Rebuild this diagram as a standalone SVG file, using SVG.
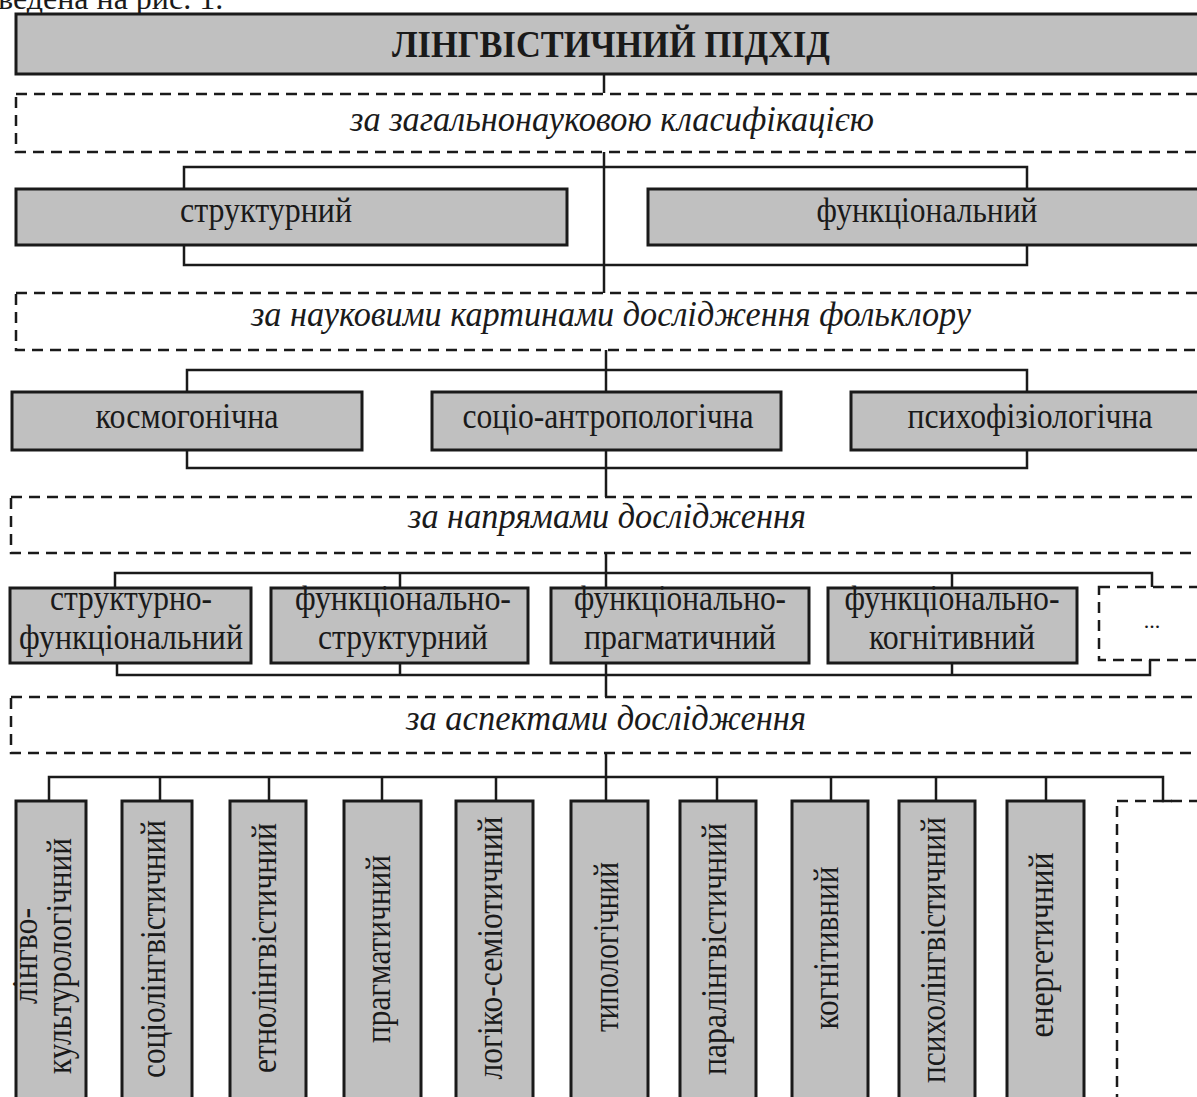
<svg xmlns="http://www.w3.org/2000/svg" width="1197" height="1097" viewBox="0 0 1197 1097">
<style>
.box{fill:#c0c0c0;stroke:#1a1a1a;stroke-width:3}
.dash{fill:none;stroke:#1a1a1a;stroke-width:2.5;stroke-dasharray:11 7}
.conn{fill:none;stroke:#1a1a1a;stroke-width:2.5}
.t{font-family:"Liberation Serif","Times New Roman",serif;font-size:36px;fill:#1a1a1a;text-anchor:middle}
.i{font-style:italic;font-size:35px}
.b{font-weight:bold;font-size:38px}
</style>
<rect width="1197" height="1097" fill="#ffffff"/>
<text class="t" x="-2" y="9" style="text-anchor:start;font-size:32px">ведена на рис. 1.</text>

<g id="connectors">
<path class="conn" d="M604,74 V93"/>
<path class="conn" d="M604,152 V293"/>
<path class="conn" d="M184,189 V167 H1027 V189"/>
<path class="conn" d="M184,245 V265 H1027 V245"/>
<path class="conn" d="M606,350 V392"/>
<path class="conn" d="M187,392 V370 H1027 V392"/>
<path class="conn" d="M187,450 V468 H1027 V450"/>
<path class="conn" d="M606,450 V497"/>
<path class="conn" d="M115,588 V573 H1152 V587"/>
<path class="conn" d="M400,573 V588 M606,553 V588 M952,573 V588"/>
<path class="conn" d="M117,663 V675 H1150 V660"/>
<path class="conn" d="M400,663 V675 M606,663 V697 M952,663 V675"/>
<path class="conn" d="M49,801 V777 H1163 V801 H1172"/>
<path class="conn" d="M606,753 V801 M160,777 V801 M269,777 V801 M382,777 V801 M496,777 V801 M717,777 V801 M831,777 V801 M936,777 V801 M1046,777 V801"/>
</g>

<g id="title">
<rect class="box" x="16" y="14" width="1200" height="60"/>
<text class="t b" x="611" y="57" textLength="438" lengthAdjust="spacingAndGlyphs">ЛІНГВІСТИЧНИЙ ПІДХІД</text>
</g>

<g id="crit1">
<rect class="dash" x="16" y="94" width="1200" height="58"/>
<text class="t i" x="612" y="131" textLength="524" lengthAdjust="spacingAndGlyphs">за загальнонауковою класифікацією</text>
</g>

<g id="structural">
<rect class="box" x="16" y="189" width="551" height="56"/>
<text class="t" x="266" y="222" textLength="172" lengthAdjust="spacingAndGlyphs">структурний</text>
</g>
<g id="functional">
<rect class="box" x="648" y="189" width="570" height="56"/>
<text class="t" x="927" y="222" textLength="221" lengthAdjust="spacingAndGlyphs">функціональний</text>
</g>

<g id="crit2">
<rect class="dash" x="16" y="293" width="1200" height="57"/>
<text class="t i" x="611" y="326" textLength="720" lengthAdjust="spacingAndGlyphs">за науковими картинами дослідження фольклору</text>
</g>

<g id="cosmo">
<rect class="box" x="12" y="392" width="350" height="58"/>
<text class="t" x="187" y="428" textLength="183" lengthAdjust="spacingAndGlyphs">космогонічна</text>
</g>
<g id="socio">
<rect class="box" x="432" y="392" width="349" height="58"/>
<text class="t" x="608" y="428" textLength="291" lengthAdjust="spacingAndGlyphs">соціо-антропологічна</text>
</g>
<g id="psycho">
<rect class="box" x="851" y="392" width="370" height="58"/>
<text class="t" x="1030" y="428" textLength="245" lengthAdjust="spacingAndGlyphs">психофізіологічна</text>
</g>

<g id="crit3">
<rect class="dash" x="11" y="497" width="1210" height="56"/>
<text class="t i" x="607" y="528" textLength="398" lengthAdjust="spacingAndGlyphs">за напрямами дослідження</text>
</g>

<g id="sf">
<rect class="box" x="10" y="588" width="241" height="75"/>
<text class="t" x="131" y="610" textLength="162" lengthAdjust="spacingAndGlyphs">структурно-</text>
<text class="t" x="131" y="649" textLength="224" lengthAdjust="spacingAndGlyphs">функціональний</text>
</g>
<g id="fs">
<rect class="box" x="271" y="588" width="257" height="75"/>
<text class="t" x="403" y="610" textLength="216" lengthAdjust="spacingAndGlyphs">функціонально-</text>
<text class="t" x="403" y="649" textLength="170" lengthAdjust="spacingAndGlyphs">структурний</text>
</g>
<g id="fp">
<rect class="box" x="551" y="588" width="258" height="75"/>
<text class="t" x="680" y="610" textLength="212" lengthAdjust="spacingAndGlyphs">функціонально-</text>
<text class="t" x="680" y="649" textLength="192" lengthAdjust="spacingAndGlyphs">прагматичний</text>
</g>
<g id="fc">
<rect class="box" x="828" y="588" width="249" height="75"/>
<text class="t" x="952" y="610" textLength="215" lengthAdjust="spacingAndGlyphs">функціонально-</text>
<text class="t" x="952" y="649" textLength="166" lengthAdjust="spacingAndGlyphs">когнітивний</text>
</g>
<g id="more1">
<rect class="dash" x="1099" y="587" width="120" height="73"/>
<text class="t" x="1152" y="628" style="font-size:22px">...</text>
</g>

<g id="crit4">
<rect class="dash" x="11" y="697" width="1210" height="56"/>
<text class="t i" x="606" y="730" textLength="400" lengthAdjust="spacingAndGlyphs">за аспектами дослідження</text>
</g>

<g id="a1">
<rect class="box" x="16" y="801" width="70" height="320"/>
<text class="t" transform="translate(37,956) rotate(-90)" textLength="96" lengthAdjust="spacingAndGlyphs">лінгво-</text>
<text class="t" transform="translate(71,956) rotate(-90)" textLength="236" lengthAdjust="spacingAndGlyphs">культурологічний</text>
</g>
<g id="a2">
<rect class="box" x="122" y="801" width="70" height="320"/>
<text class="t" transform="translate(165,949) rotate(-90)" textLength="258" lengthAdjust="spacingAndGlyphs">соціолінгвістичний</text>
</g>
<g id="a3">
<rect class="box" x="230" y="801" width="76" height="320"/>
<text class="t" transform="translate(276,948) rotate(-90)" textLength="250" lengthAdjust="spacingAndGlyphs">етнолінгвістичний</text>
</g>
<g id="a4">
<rect class="box" x="344" y="801" width="77" height="320"/>
<text class="t" transform="translate(390,949) rotate(-90)" textLength="188" lengthAdjust="spacingAndGlyphs">прагматичний</text>
</g>
<g id="a5">
<rect class="box" x="456" y="801" width="77" height="320"/>
<text class="t" transform="translate(502,948) rotate(-90)" textLength="263" lengthAdjust="spacingAndGlyphs">логіко-семіотичний</text>
</g>
<g id="a6">
<rect class="box" x="571" y="801" width="77" height="320"/>
<text class="t" transform="translate(618,947) rotate(-90)" textLength="170" lengthAdjust="spacingAndGlyphs">типологічний</text>
</g>
<g id="a7">
<rect class="box" x="680" y="801" width="76" height="320"/>
<text class="t" transform="translate(726,949) rotate(-90)" textLength="252" lengthAdjust="spacingAndGlyphs">паралінгвістичний</text>
</g>
<g id="a8">
<rect class="box" x="792" y="801" width="76" height="320"/>
<text class="t" transform="translate(838,948) rotate(-90)" textLength="163" lengthAdjust="spacingAndGlyphs">когнітивний</text>
</g>
<g id="a9">
<rect class="box" x="899" y="801" width="76" height="320"/>
<text class="t" transform="translate(945,950) rotate(-90)" textLength="266" lengthAdjust="spacingAndGlyphs">психолінгвістичний</text>
</g>
<g id="a10">
<rect class="box" x="1007" y="801" width="77" height="320"/>
<text class="t" transform="translate(1053,945) rotate(-90)" textLength="185" lengthAdjust="spacingAndGlyphs">енергетичний</text>
</g>
<g id="more2">
<rect class="dash" x="1117" y="801" width="120" height="320"/>
</g>
</svg>
